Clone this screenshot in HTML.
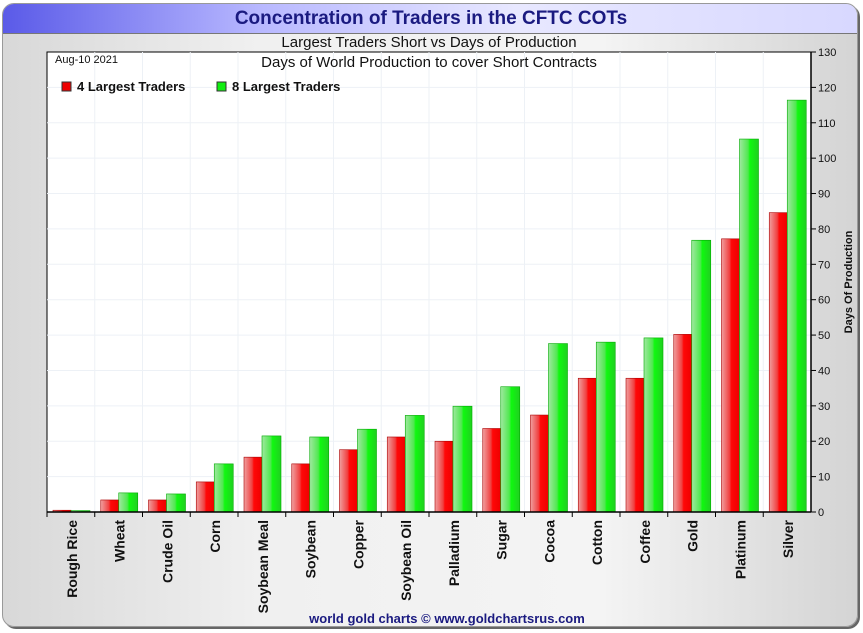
<!DOCTYPE html>
<html><head><meta charset="utf-8"><style>
body{margin:0;width:863px;height:633px;background:#fff;overflow:hidden;font-family:"Liberation Sans",sans-serif}
#panel{position:absolute;left:2px;top:3px;width:854px;height:622px;border-radius:12px;background:linear-gradient(90deg,#d8d8d8,#f0f0f0 30%,#f4f4f4 70%,#d4d4d4);border:1px solid #999;box-shadow:2px 2px 0 #666;overflow:hidden}
#titlebar{position:absolute;left:0;top:0;width:100%;height:29px;background:linear-gradient(90deg,#5a5ae8,#b8b8ff 30%,#e8e8ff 60%,#d8d8ff);border-bottom:1px solid #777}
</style></head><body>
<div id="panel">
<div id="titlebar"></div>
</div>
<svg id="c" width="863" height="633" style="position:absolute;left:0;top:0">
<text x="431" y="24" text-anchor="middle" font-size="19" font-weight="bold" fill="#1a1a80">Concentration of Traders in the CFTC COTs</text>
<text x="429" y="47" text-anchor="middle" font-size="15" fill="#111">Largest Traders Short vs Days of Production</text>
<rect x="47" y="52" width="764" height="460" fill="#fff" stroke="#000" stroke-width="1"/>
<g id="grid"></g><g id="bars"></g><g id="axes"></g>
<text x="55" y="63" font-size="11" fill="#111">Aug-10  2021</text>
<text x="429" y="67" text-anchor="middle" font-size="15" fill="#111">Days of World Production to cover Short Contracts</text>
<rect x="62" y="82" width="9" height="9" fill="#e00" stroke="#333" stroke-width="1"/>
<text x="77" y="91" font-size="13" font-weight="bold" fill="#111">4 Largest Traders</text>
<rect x="217" y="82" width="9" height="9" fill="#1e1" stroke="#333" stroke-width="1"/>
<text x="232" y="91" font-size="13" font-weight="bold" fill="#111">8 Largest Traders</text>
<text transform="translate(852,282) rotate(-90)" text-anchor="middle" font-size="11" font-weight="bold" fill="#111">Days Of Production</text>
<text x="447" y="623" text-anchor="middle" font-size="13" font-weight="bold" fill="#1a1a80">world gold charts © www.goldchartsrus.com</text>
<defs>
<linearGradient id="gr" x1="0" x2="1"><stop offset="0" stop-color="#f0a0a0"/><stop offset="0.45" stop-color="#f04040"/><stop offset="0.55" stop-color="#ff0808"/><stop offset="1" stop-color="#e00"/></linearGradient>
<linearGradient id="gg" x1="0" x2="1"><stop offset="0" stop-color="#a0e8a0"/><stop offset="0.45" stop-color="#50e850"/><stop offset="0.55" stop-color="#10f810"/><stop offset="1" stop-color="#20d020"/></linearGradient>
</defs>
</svg>
<script>
const categories=["Rough Rice","Wheat","Crude Oil","Corn","Soybean Meal","Soybean","Copper","Soybean Oil","Palladium","Sugar","Cocoa","Cotton","Coffee","Gold","Platinum","Silver"];
const largest4=[0.5,3.4,3.4,8.5,15.5,13.6,17.6,21.2,20,23.6,27.4,37.8,37.8,50.2,77.2,84.6];
const largest8=[0.4,5.4,5.1,13.6,21.5,21.2,23.4,27.3,29.9,35.4,47.6,48,49.2,76.8,105.4,116.4];
const yTicks=[0,10,20,30,40,50,60,70,80,90,100,110,120,130];
const NS="http://www.w3.org/2000/svg";
const L=47,R=811,T=52,B=512,ymax=130;
const y=v=>B-v/ymax*(B-T);
const bw=(R-L)/categories.length;
const x=i=>L+i*bw;
function mk(tag,at,parent){const e=document.createElementNS(NS,tag);for(const k in at)e.setAttribute(k,at[k]);document.getElementById(parent).appendChild(e);return e;}
yTicks.forEach(t=>{
 if(t>0&&t<130){const g=mk('line',{x1:L,x2:R,y1:y(t),y2:y(t),stroke:'#edf1f6'},'grid');
 
 }
 const tk=mk('line',{x1:R,x2:R+5,y1:y(t),y2:y(t),stroke:'#000'},'axes');
 
 
 const tx=mk('text',{x:R+7,y:y(t)+4,'font-size':11,fill:'#111'},'axes');tx.textContent=t;
 
 
});
categories.forEach((c,i)=>{
 if(i>0){const g=mk('line',{x1:x(i),x2:x(i),y1:T,y2:B,stroke:'#edf1f6'},'grid');
 
 }
 const tk=mk('line',{x1:x(i),x2:x(i),y1:B,y2:B+5,stroke:'#000'},'axes');
 
 
 const bx=x(i)+6;
 const r=mk('rect',{x:bx,y:y(largest4[i]),width:18,height:B-y(largest4[i]),fill:'url(#gr)',stroke:'#a00','stroke-width':0.6},'bars');
 
 
 const g=mk('rect',{x:bx+18,y:y(largest8[i]),width:19,height:B-y(largest8[i]),fill:'url(#gg)',stroke:'#0a0','stroke-width':0.6},'bars');
 
 
 const cx=x(i)+bw/2+6;
 const t=mk('text',{transform:`translate(${cx},${B+8}) rotate(-90)`,'text-anchor':'end','font-size':14,'font-weight':'bold',fill:'#111'},'axes');
 t.textContent=c;
 
 
});
const ax=mk('line',{x1:L,x2:R,y1:B,y2:B,stroke:'#000','stroke-width':1.5},'axes');


const ay=mk('line',{x1:R,x2:R,y1:T,y2:B,stroke:'#000','stroke-width':1.5},'axes');


</script>
</body></html>
